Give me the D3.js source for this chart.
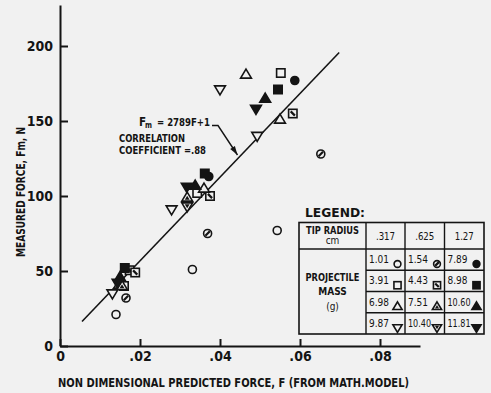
<!DOCTYPE html>
<html>
<head>
<meta charset="utf-8">
<script src="https://cdn.jsdelivr.net/npm/d3@7"></script>
<style>
  body { margin: 0; background: #f1f1f1; }
  svg { display: block; }
</style>
</head>
<body>
<svg id="chart" width="491" height="393"></svg>
<script>
// ---- axis ticks ----
const xTicks = [0, 0.02, 0.04, 0.06, 0.08];
const yTicks = [0, 50, 100, 150, 200];

// ---- least-squares fit: Fm = 2789 F + 1 ----
const fitSlope = 2789;
const fitIntercept = 1;
const fitSpan = [0.0055, 0.0698];

// ---- legend table ----
const tipRadii = [".317", ".625", "1.27"];
const massLabels = [
  ["1.01", "1.54", "7.89"],
  ["3.91", "4.43", "8.98"],
  ["6.98", "7.51", "10.60"],
  ["9.87", "10.40", "11.81"]
];

// ---- measurements [F, Fm] by projectile mass (g) ----
const mass101  = [[0.0140, 21], [0.0331, 51], [0.0543, 77]];
const mass154  = [[0.0165, 32], [0.0369, 75], [0.0652, 128]];
const mass789  = [[0.0372, 113], [0.0587, 177]];
const mass391  = [[0.0160, 40], [0.0343, 102], [0.0552, 182]];
const mass443  = [[0.0174, 50.5], [0.0188, 49], [0.0375, 100], [0.0582, 155]];
const mass898  = [[0.0162, 52], [0.0362, 115], [0.0545, 171]];
const mass698  = [[0.0148, 41], [0.0360, 105], [0.0465, 181], [0.0550, 151]];
const mass751  = [[0.0155, 40], [0.0318, 99]];
const mass1060 = [[0.0150, 46], [0.0338, 107], [0.0513, 165]];
const mass987  = [[0.0131, 35], [0.0279, 91], [0.0400, 171], [0.0493, 140]];
const mass1040 = [[0.0318, 93]];
const mass1181 = [[0.0144, 42], [0.0317, 106], [0.0490, 158]];

// series in legend order (row-major), paired with a marker key
const series = [
  { data: mass101,  shape: "circle", fill: "open" },
  { data: mass154,  shape: "circle", fill: "mark" },
  { data: mass789,  shape: "circle", fill: "solid" },
  { data: mass391,  shape: "square", fill: "open" },
  { data: mass443,  shape: "square", fill: "mark" },
  { data: mass898,  shape: "square", fill: "solid" },
  { data: mass698,  shape: "up",     fill: "open" },
  { data: mass751,  shape: "up",     fill: "mark" },
  { data: mass1060, shape: "up",     fill: "solid" },
  { data: mass987,  shape: "down",   fill: "open" },
  { data: mass1040, shape: "down",   fill: "mark" },
  { data: mass1181, shape: "down",   fill: "solid" }
];

const ink = "#141414";
const paper = "#f1f1f1";
const FONT = "'Liberation Sans Narrow','DejaVu Sans Condensed','Arial Narrow',sans-serif";

const svg = d3.select("#chart");

const x = d3.scaleLinear().domain([0, 0.09]).range([60, 420]);
const y = d3.scaleLinear().domain([0, 200]).range([346, 46]);
const yTop = y.invert(5);
const yAxisScale = y.copy().domain([0, yTop]).range([346, 5]);

// ---- axes ----
const xAxis = d3.axisBottom(x)
  .tickValues(xTicks)
  .tickSizeInner(-7).tickSizeOuter(0).tickPadding(5)
  .tickFormat(d => d === 0 ? "0" : d3.format(".2f")(d).slice(1));
const yAxis = d3.axisLeft(yAxisScale)
  .tickValues(yTicks)
  .tickSizeInner(-8).tickSizeOuter(0).tickPadding(7)
  .tickFormat(d3.format("d"));

function styleAxis(g) {
  g.select(".domain").attr("stroke", ink).attr("stroke-width", 2);
  g.selectAll(".tick line").attr("stroke", ink).attr("stroke-width", 2);
  g.selectAll(".tick text")
    .attr("fill", ink)
    .style("font-family", FONT)
    .style("font-size", "14px")
    .style("font-weight", "bold");
}

svg.append("g").attr("transform", "translate(0,346)").call(xAxis).call(styleAxis);
svg.append("g").attr("transform", "translate(60,0)").call(yAxis).call(styleAxis);

// axis titles
svg.append("text")
  .attr("x", 58).attr("y", 387)
  .attr("textLength", 351).attr("lengthAdjust", "spacingAndGlyphs")
  .attr("fill", ink)
  .style("font-family", FONT).style("font-size", "12px").style("font-weight", "bold")
  .text("NON DIMENSIONAL PREDICTED FORCE, F  (FROM MATH.MODEL)");

svg.append("text")
  .attr("transform", "translate(25,257) rotate(-90)")
  .attr("textLength", 130).attr("lengthAdjust", "spacingAndGlyphs")
  .attr("fill", ink)
  .style("font-family", FONT).style("font-size", "12px").style("font-weight", "bold")
  .text("MEASURED FORCE, Fm, N");

// ---- fitted line ----
svg.append("line")
  .attr("x1", x(fitSpan[0])).attr("y1", y(fitSlope * fitSpan[0] + fitIntercept))
  .attr("x2", x(fitSpan[1])).attr("y2", y(fitSlope * fitSpan[1] + fitIntercept))
  .attr("stroke", ink).attr("stroke-width", 1.6);

// ---- fit annotation ----
const note = svg.append("g")
  .attr("fill", ink)
  .style("font-family", FONT).style("font-weight", "bold");
note.append("text").attr("x", 139).attr("y", 126).style("font-size", "11.5px").text("F");
note.append("text").attr("x", 145).attr("y", 127.5).style("font-size", "9px")
  .attr("textLength", 7).attr("lengthAdjust", "spacingAndGlyphs").text("m");
note.append("text").attr("x", 157).attr("y", 126).style("font-size", "11px")
  .attr("textLength", 53).attr("lengthAdjust", "spacingAndGlyphs").text("= 2789F+1");
note.append("text").attr("x", 119).attr("y", 141.5).style("font-size", "10.5px")
  .attr("textLength", 66).attr("lengthAdjust", "spacingAndGlyphs").text("CORRELATION");
note.append("text").attr("x", 119).attr("y", 154).style("font-size", "10.5px")
  .attr("textLength", 87).attr("lengthAdjust", "spacingAndGlyphs").text("COEFFICIENT =.88");

// leader arrow onto the fitted line
const tip = [237.5, 155];
const bend = [218, 125.5];
svg.append("path")
  .attr("d", `M212,125.5L${bend[0]},${bend[1]}L${tip[0]},${tip[1]}`)
  .attr("fill", "none").attr("stroke", ink).attr("stroke-width", 1.4);
{
  const dx = tip[0] - bend[0], dy = tip[1] - bend[1];
  const len = Math.hypot(dx, dy), ux = dx / len, uy = dy / len;
  const bx = tip[0] - ux * 9, by = tip[1] - uy * 9;
  svg.append("path")
    .attr("d", `M${tip[0]},${tip[1]}L${bx - uy * 2.8},${by + ux * 2.8}L${bx + uy * 2.8},${by - ux * 2.8}Z`)
    .attr("fill", ink);
}

// ---- markers ----
function drawMarker(g, shape, fill, s) {
  const sw = 1.6;
  const body = fill === "solid" ? ink : paper;
  if (shape === "circle") {
    const r = 4 * s;
    g.append("circle").attr("r", r).attr("fill", body).attr("stroke", ink).attr("stroke-width", sw);
    if (fill === "mark") {
      g.append("line").attr("x1", -r * 0.55).attr("y1", r * 0.55).attr("x2", r * 0.55).attr("y2", -r * 0.55)
        .attr("stroke", ink).attr("stroke-width", 2.2);
    }
  } else if (shape === "square") {
    const h = 4.2 * s;
    g.append("rect").attr("x", -h).attr("y", -h).attr("width", 2 * h).attr("height", 2 * h)
      .attr("fill", body).attr("stroke", ink).attr("stroke-width", sw);
    if (fill === "mark") {
      g.append("line").attr("x1", -h * 0.5).attr("y1", -h * 0.5).attr("x2", h * 0.5).attr("y2", h * 0.5)
        .attr("stroke", ink).attr("stroke-width", 2.2);
    }
  } else {
    const dir = shape === "up" ? 1 : -1;
    const a = 5.4 * s, b = 3.6 * s, w = 5.4 * s;
    const pts = [[0, -a * dir], [w, b * dir], [-w, b * dir]];
    g.append("path").attr("d", "M" + pts.join("L") + "Z")
      .attr("fill", body).attr("stroke", ink).attr("stroke-width", sw).attr("stroke-linejoin", "miter");
    if (fill === "mark") {
      const k = 0.45;
      const inner = pts.map(p => [p[0] * k, p[1] * k + (dir * 0.6)]);
      g.append("path").attr("d", "M" + inner.join("L") + "Z").attr("fill", ink);
    }
  }
}

series.forEach(sr => {
  svg.append("g").selectAll("g")
    .data(sr.data)
    .join("g")
    .attr("transform", d => `translate(${x(d[0])},${y(d[1])})`)
    .each(function () { drawMarker(d3.select(this), sr.shape, sr.fill, 1); });
});

// ---- legend ----
const lg = svg.append("g").attr("fill", ink).style("font-family", FONT);
lg.append("text").attr("x", 305).attr("y", 217)
  .style("font-size", "13px").style("font-weight", "bold")
  .attr("textLength", 60).attr("lengthAdjust", "spacingAndGlyphs")
  .text("LEGEND:");

const colX = [299, 366, 405, 444.5, 484];
const top0 = 222.5, head = 249, bottom = 334;
const rowH = (bottom - head) / massLabels.length;
const rowY = d3.range(massLabels.length + 1).map(i => head + i * rowH);

lg.append("rect").attr("x", colX[0]).attr("y", top0)
  .attr("width", colX[4] - colX[0]).attr("height", bottom - top0)
  .attr("fill", "none").attr("stroke", ink).attr("stroke-width", 1.6);
colX.slice(1, 4).forEach(cx => {
  lg.append("line").attr("x1", cx).attr("x2", cx).attr("y1", top0).attr("y2", bottom)
    .attr("stroke", ink).attr("stroke-width", 1.4);
});
lg.append("line").attr("x1", colX[0]).attr("x2", colX[4]).attr("y1", head).attr("y2", head)
  .attr("stroke", ink).attr("stroke-width", 1.4);
rowY.slice(1, -1).forEach(ry => {
  lg.append("line").attr("x1", colX[1]).attr("x2", colX[4]).attr("y1", ry).attr("y2", ry)
    .attr("stroke", ink).attr("stroke-width", 1.4);
});

// header
const c0 = (colX[0] + colX[1]) / 2;
lg.append("text").attr("x", c0).attr("y", 234).attr("text-anchor", "middle")
  .attr("textLength", 53).attr("lengthAdjust", "spacingAndGlyphs")
  .style("font-size", "10px").style("font-weight", "bold").text("TIP RADIUS");
lg.append("text").attr("x", c0).attr("y", 244).attr("text-anchor", "middle")
  .style("font-size", "10px").text("cm");
tipRadii.forEach((t, i) => {
  lg.append("text").attr("x", (colX[i + 1] + colX[i + 2]) / 2).attr("y", 240)
    .attr("text-anchor", "middle").style("font-size", "11px")
    .attr("textLength", t.length * 4.8).attr("lengthAdjust", "spacingAndGlyphs").text(t);
});

lg.append("text").attr("x", c0).attr("y", 281).attr("text-anchor", "middle")
  .attr("textLength", 54).attr("lengthAdjust", "spacingAndGlyphs")
  .style("font-size", "10px").style("font-weight", "bold").text("PROJECTILE");
lg.append("text").attr("x", c0).attr("y", 295).attr("text-anchor", "middle")
  .style("font-size", "10px").style("font-weight", "bold").text("MASS");
lg.append("text").attr("x", c0).attr("y", 310).attr("text-anchor", "middle")
  .style("font-size", "10px").text("(g)");

massLabels.forEach((row, r) => {
  row.forEach((lab, c) => {
    const left = colX[c + 1], right = colX[c + 2];
    lg.append("text").attr("x", left + 3).attr("y", rowY[r] + 14)
      .attr("textLength", lab.length === 4 ? 20 : 23).attr("lengthAdjust", "spacingAndGlyphs")
      .style("font-size", "11px").text(lab);
    const sr = series[r * 3 + c];
    const m = lg.append("g").attr("transform", `translate(${right - 7.5},${rowY[r] + 15})`);
    drawMarker(m, sr.shape, sr.fill, 0.85);
  });
});
</script>
</body>
</html>
